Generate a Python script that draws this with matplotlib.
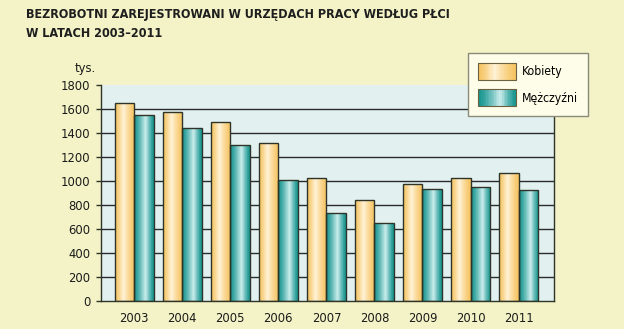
import numpy as np
import matplotlib
matplotlib.use('Agg')
import matplotlib.pyplot as plt
from matplotlib.legend_handler import HandlerBase
from matplotlib.patches import Rectangle
from matplotlib.colors import to_rgb
from matplotlib.font_manager import FontProperties

years = ['2003', '2004', '2005', '2006', '2007', '2008', '2009', '2010', '2011']
kobiety = [1645, 1575, 1492, 1312, 1020, 835, 970, 1022, 1066]
mezczyzni = [1550, 1435, 1295, 1002, 733, 645, 932, 945, 925]
yticks = [0, 200, 400, 600, 800, 1000, 1200, 1400, 1600, 1800]

bg = '#f3f3c7'
plot_bg = '#e2f1f0'
edge = '#2f3428'


def fp(size, weight='normal'):
    return FontProperties(family='DejaVu Sans', stretch='condensed', size=size, weight=weight)


orange = (to_rgb('#f6c462'), to_rgb('#fff3d8'), 0.42)
teal = (to_rgb('#17958f'), to_rgb('#cdeeee'), 0.58)


def profile(n, dark, light, peak):
    t = np.linspace(0, 1, n)
    d = np.where(t < peak, (peak - t) / peak, (t - peak) / (1 - peak))
    k = np.clip(1 - d, 0, 1) ** 1.3
    return np.array(dark) + (np.array(light) - np.array(dark)) * k[:, None]


def gradient_fill(ax, patch, style):
    x0, y0 = patch.get_x(), patch.get_y()
    w, h = patch.get_width(), patch.get_height()
    img = profile(64, *style)[None, :, :]
    im = ax.imshow(img, extent=[x0, x0 + w, y0, y0 + h], aspect='auto',
                   interpolation='bilinear', zorder=2.5)
    im.set_clip_path(patch)


class GradientHandler(HandlerBase):
    def __init__(self, style):
        super().__init__()
        self.style = style

    def create_artists(self, legend, orig_handle, xdescent, ydescent,
                       width, height, fontsize, trans):
        n = 24
        cols = profile(n, *self.style)
        arts = []
        y0, hh = -ydescent, height
        for i in range(n):
            r = Rectangle((-xdescent + width * i / n, y0), width / n + 0.3,
                          hh, facecolor=cols[i], edgecolor='none', transform=trans)
            arts.append(r)
        arts.append(Rectangle((-xdescent, y0), width, hh,
                              facecolor='none', edgecolor='#6b6040', lw=0.8, transform=trans))
        return arts


fig = plt.figure(figsize=(6.24, 3.29), dpi=100, facecolor=bg)
ax = fig.add_axes([0.162, 0.086, 0.726, 0.657])
ax.set_facecolor(plot_bg)

x = np.arange(len(years))
w = 0.405
b1 = ax.bar(x - w / 2, kobiety, w, facecolor='none', edgecolor=edge, lw=1.0, zorder=3)
b2 = ax.bar(x + w / 2, mezczyzni, w, facecolor='none', edgecolor=edge, lw=1.0, zorder=3)
for p in b1:
    gradient_fill(ax, p, orange)
for p in b2:
    gradient_fill(ax, p, teal)

ax.set_xlim(-0.69, 8.74)
ax.set_ylim(0, 1800)
ax.set_yticks(yticks)
ax.set_yticklabels([str(v) for v in yticks], fontproperties=fp(9.3), color='#1a1a1a')
ax.set_xticks(x)
ax.set_xticklabels(years, fontproperties=fp(9.3), color='#1a1a1a')
ax.tick_params(axis='x', length=0, pad=8)
ax.tick_params(axis='y', length=3.5, width=1.0, color=edge, pad=4)
for yv in yticks[1:-1]:
    ax.axhline(yv, color='#2a2a2a', lw=1.0, zorder=1)
ax.spines['top'].set_visible(False)
for s in ['left', 'right', 'bottom']:
    ax.spines[s].set_color(edge)
    ax.spines[s].set_linewidth(1.0)

fig.text(0.120, 0.793, 'tys.', fontproperties=fp(9.3), color='#1a1a1a', va='center')

fig.text(0.042, 0.975, 'BEZROBOTNI ZAREJESTROWANI W URZĘDACH PRACY WEDŁUG PŁCI\nW LATACH 2003–2011',
         fontproperties=fp(9, 'bold'), color='#1e1e1e',
         va='top', ha='left', linespacing=1.55)

leg = fig.legend([b1, b2], ['Kobiety', 'Mężczyźni'],
                 handler_map={b1: GradientHandler(orange), b2: GradientHandler(teal)},
                 loc='upper left', bbox_to_anchor=(0.75, 0.84), bbox_transform=fig.transFigure,
                 prop=fp(8.7), fancybox=False, frameon=True,
                 handlelength=3.15, handleheight=1.8, handletextpad=0.45,
                 labelspacing=0.75, borderpad=0.85, borderaxespad=0)
leg.get_frame().set_facecolor('#fdfde9')
leg.get_frame().set_edgecolor('#8a8a7a')
leg.get_frame().set_linewidth(1.0)
leg.get_frame().set_alpha(1)

fig.savefig('out.png', dpi=100, facecolor=bg)
